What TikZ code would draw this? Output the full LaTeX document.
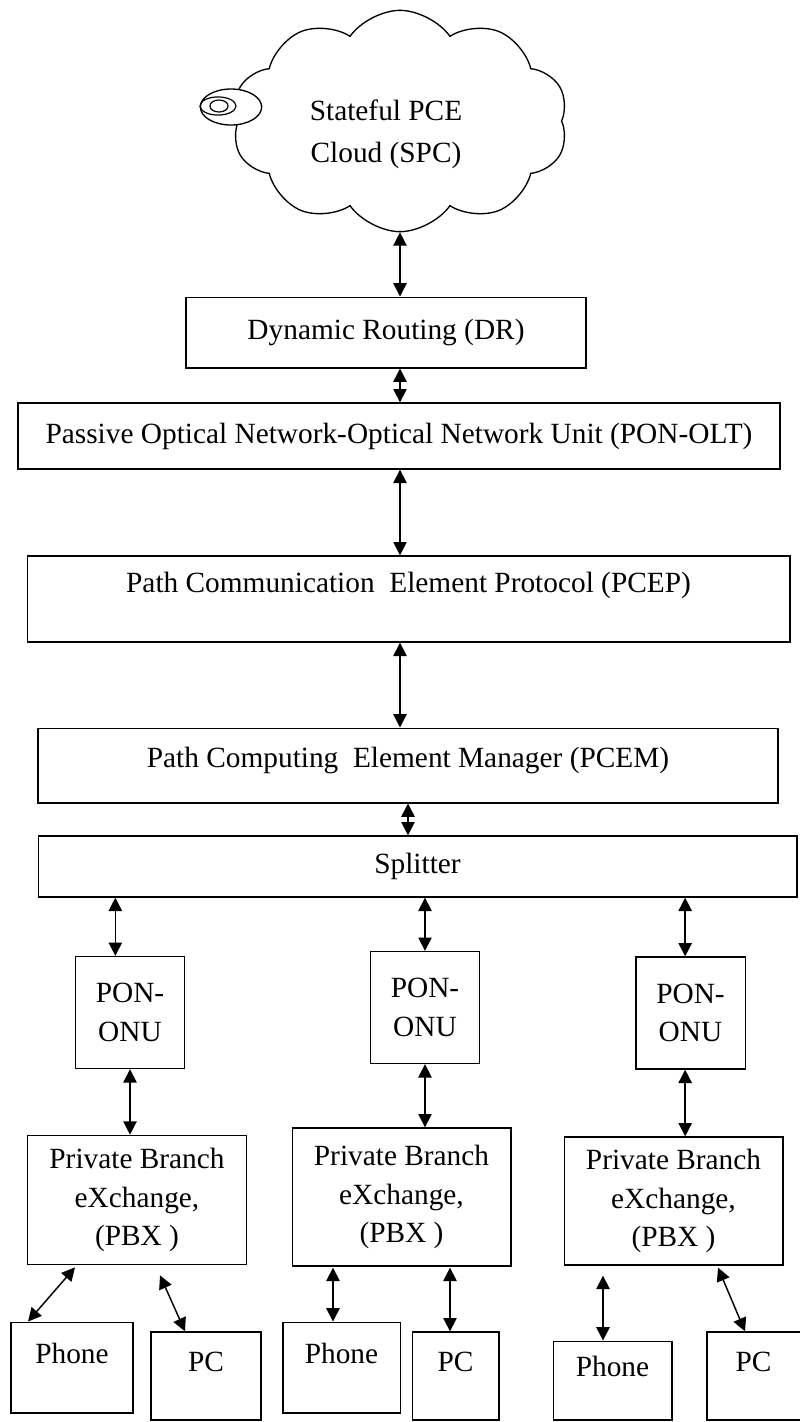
\documentclass[tikz,border=0pt]{standalone}
\usepackage{fontspec}
\setmainfont{Liberation Serif}
\usetikzlibrary{arrows.meta,positioning,calc,shapes.symbols}
\tikzset{
  blk/.style={draw=black,line width=1pt,align=center,inner sep=2pt,fill=white,font=\fontsize{22}{29}\selectfont},
  onubox/.style={blk,minimum width=82pt,minimum height=84pt},
  pbxbox/.style={blk,minimum width=164pt,minimum height=97pt},
  endbox/.style={blk,text depth=21pt},
  dflow/.style={{Triangle[length=10pt,width=10pt]}-{Triangle[length=10pt,width=10pt]},line width=1.1pt}
}
\begin{document}
\begin{tikzpicture}[x=0.75pt,y=-0.75pt]
  \useasboundingbox (0,0) rectangle (800,1422);
  % cloud
  \node[draw,line width=1pt,cloud,cloud puffs=10,cloud puff arc=110,aspect=1.5,minimum width=252pt,minimum height=166pt] (spc) at (400,121) {};
  \node[align=center,font=\fontsize{22}{31.5}\selectfont] (spclbl) at (386,134) {Stateful PCE\\Cloud (SPC)};
  \draw[fill=white,line width=1pt] (231,107) ellipse [x radius=23pt, y radius=13.5pt];
  \draw[line width=0.9pt] (218,106) ellipse [x radius=13.5pt, y radius=6.8pt];
  \draw[line width=0.9pt] (219,106) ellipse [x radius=6.8pt, y radius=4.5pt];
  % layer stack
  \node[blk,minimum width=300pt,minimum height=53pt] (dr) at (386,332.5) {Dynamic Routing (DR)};
  \node[blk,minimum width=571.5pt,minimum height=49.5pt] (olt) at (399,436) {Passive Optical Network-Optical Network Unit (PON-OLT)};
  \node[blk,minimum width=572pt,minimum height=64.5pt,text depth=25pt] (pcep) at (408.5,599) {Path Communication\ \ Element Protocol (PCEP)};
  \node[blk,minimum width=555pt,minimum height=56pt,text depth=13pt] (pcem) at (408,765.5) {Path Computing\ \ Element Manager (PCEM)};
  \node[blk,minimum width=569pt,minimum height=45.75pt] (split) at (417.5,866.5) {Splitter};
  % three branches
  \node[onubox] (onua) at (130,1012.5) {PON-\\ONU};
  \node[onubox] (onub) at (425,1007.5) {PON-\\ONU};
  \node[onubox] (onuc) at (690.5,1013) {PON-\\ONU};
  \node[pbxbox] (pbxa) at (137,1200) {Private Branch\\eXchange,\\(PBX )};
  \node[pbxbox,minimum height=103.5pt] (pbxb) at (401.5,1197) {Private Branch\\eXchange,\\(PBX )};
  \node[pbxbox,minimum height=96pt] (pbxc) at (673.5,1201) {Private Branch\\eXchange,\\(PBX )};
  \node[endbox,minimum width=91.5pt,minimum height=68pt] (phonea) at (72,1367.5) {Phone};
  \node[endbox,minimum width=82.5pt,minimum height=66pt] (pca) at (206,1376) {PC};
  \node[endbox,minimum width=88pt,minimum height=68pt] (phoneb) at (341.5,1367.5) {Phone};
  \node[endbox,minimum width=65pt,minimum height=66pt] (pcb) at (455.5,1376) {PC};
  \node[endbox,minimum width=89pt,minimum height=59pt] (phonec) at (612.5,1380.5) {Phone};
  \node[endbox,minimum width=70pt,minimum height=66pt] (pcc) at (753.5,1376) {PC};
  % links
  \draw[dflow] (spc.south) -- (spc.south |- dr.north);
  \draw[dflow] (dr.south -| spc.south) -- (olt.north -| spc.south);
  \draw[dflow] (olt.south -| spc.south) -- (pcep.north -| spc.south);
  \draw[dflow] (pcep.south -| spc.south) -- (pcem.north -| spc.south);
  \draw[dflow] (pcem.south) -- (pcem.south |- split.north);
  \draw[dflow] ([xshift=-11pt]onua.north) -- ([xshift=-11pt]onua.north |- split.south);
  \draw[dflow] (onub.north) -- (onub.north |- split.south);
  \draw[dflow] ([xshift=-4pt]onuc.north) -- ([xshift=-4pt]onuc.north |- split.south);
  \draw[dflow] (onua.south) -- (onua.south |- pbxa.north);
  \draw[dflow] (onub.south) -- (onub.south |- pbxb.north);
  \draw[dflow] ([xshift=-4pt]onuc.south) -- ([xshift=-4pt]onuc.south |- pbxc.north);
  \draw[dflow] ($(pbxa.south)+(-62,2)$) -- ($(phonea.north)+(-44,0)$);
  \draw[dflow] ($(pbxa.south)+(23,10)$) -- ($(pca.north)+(-21,0)$);
  \draw[dflow] ($(pbxb.south)+(-68.5,1)$) -- ($(phoneb.north)+(-8.5,0)$);
  \draw[dflow] ($(pbxb.south)+(48.5,1)$) -- ($(pcb.north)+(-5.5,0)$);
  \draw[dflow] ($(pbxc.south)+(-70.5,10)$) -- ($(phonec.north)+(-9.5,0)$);
  \draw[dflow] ($(pbxc.south)+(44.5,2)$) -- ($(pcc.north)+(-8.5,0)$);
\end{tikzpicture}
\end{document}
